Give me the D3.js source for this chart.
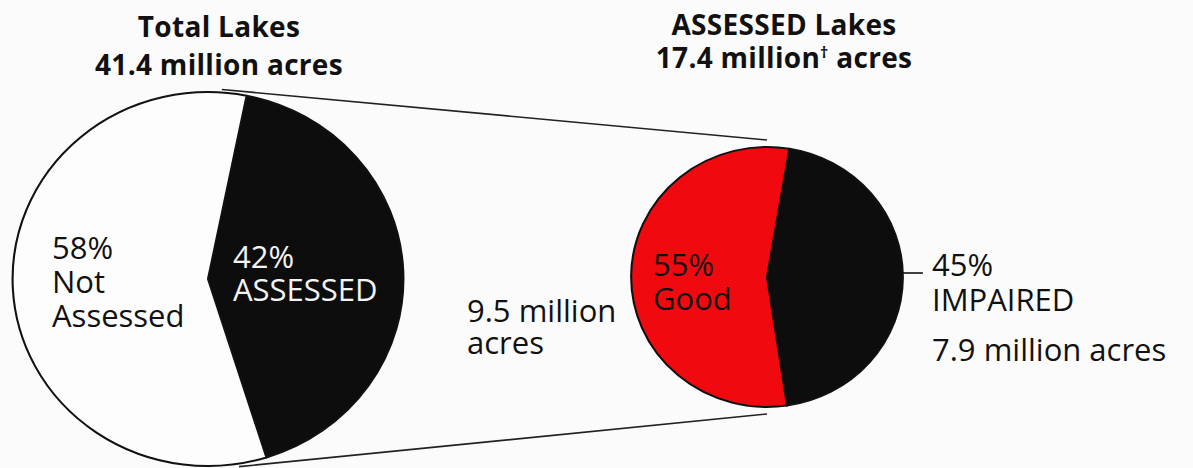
<!DOCTYPE html>
<html>
<head>
<meta charset="utf-8">
<script src="https://cdn.jsdelivr.net/npm/d3@7"></script>
<style>
  html, body { margin: 0; padding: 0; background: #fbfbfb; }
  svg { display: block; }
  text { font-family: "Open Sans", "Noto Sans", sans-serif; fill: #111; }
  .title { font-weight: 700; font-size: 28px; letter-spacing: 0.3px; }
  .lbl { font-size: 31px; }
</style>
</head>
<body>
<script>
// data
var totalCategories = ['ASSESSED', 'Not Assessed'],
	totalShares = [42, 58],
	totalAcres = 41.4;

var assessedCategories = ['IMPAIRED', 'Good'],
	assessedShares = [45, 55],
	assessedAcres = 17.4,
	goodAcres = 9.5,
	impairedAcres = 7.9;

var W = 1193, H = 468,
	stretch = 1.045; // the scan is a little wider than tall

var svg = d3.select('body').append('svg').attr('width', W).attr('height', H);

var deg = Math.PI / 180;

function drawPie(cx, cy, r, shares, colours, mid) {
	// dark slice centred on angle "mid" (degrees clockwise from 12 o'clock)
	var start = mid * deg - shares[0] / 100 * Math.PI;
	var pie = d3.pie().sort(null).startAngle(start).endAngle(start + 2 * Math.PI);
	var arc = d3.arc().innerRadius(0).outerRadius(r);
	var g = svg.append('g').attr('transform', 'translate(' + cx + ',' + cy + ') scale(' + stretch + ',1)');
	g.selectAll('path').data(pie(shares)).enter().append('path')
		.attr('d', arc)
		.attr('fill', function (d, i) { return colours[i]; })
		.attr('stroke', '#111')
		.attr('stroke-width', 2)
		.attr('stroke-linejoin', 'round');
	return g;
}

// point on a (stretched) circle, angle measured clockwise from 12 o'clock
function onPie(cx, cy, r, a) {
	return [cx + stretch * r * Math.sin(a * deg), cy - r * Math.cos(a * deg)];
}

var left = {x: 208, y: 279, r: 187},
	right = {x: 767, y: 277, r: 130};

// connector lines between the two pies
var conn = [[4, 3, 0, 7], [171, 3, 180, 7]];
conn.forEach(function (c) {
	var p0 = onPie(left.x, left.y, left.r + c[1], c[0]),
		p1 = onPie(right.x, right.y, right.r + c[3], c[2]);
	svg.append('line')
		.attr('x1', p0[0]).attr('y1', p0[1])
		.attr('x2', p1[0]).attr('y2', p1[1])
		.attr('stroke', '#222').attr('stroke-width', 1.6);
});

drawPie(left.x, left.y, left.r, totalShares, ['#0d0d0d', '#fdfdfd'], 87);
drawPie(right.x, right.y, right.r, assessedShares, ['#0d0d0d', '#f00a10'], 90.5);

// impaired tick
var tk = onPie(right.x, right.y, right.r, 90);
svg.append('line').attr('x1', tk[0]).attr('y1', tk[1] - 4).attr('x2', tk[0] + 20).attr('y2', tk[1] - 4)
	.attr('stroke', '#111').attr('stroke-width', 1.6);

// titles
svg.append('text').attr('class', 'title').attr('x', 219).attr('y', 37).attr('text-anchor', 'middle').text('Total Lakes');
svg.append('text').attr('class', 'title').attr('x', 219).attr('y', 75).attr('text-anchor', 'middle').text(totalAcres + ' million acres');
svg.append('text').attr('class', 'title').attr('x', 784).attr('y', 35).attr('text-anchor', 'middle').text('ASSESSED Lakes');
var t2 = svg.append('text').attr('class', 'title').attr('x', 784).attr('y', 68).attr('text-anchor', 'middle');
t2.append('tspan').text(assessedAcres + ' million');
t2.append('tspan').attr('font-size', 16).attr('dy', -10).text('\u2020');
t2.append('tspan').attr('dy', 10).text(' acres');

function block(x, y, lines, colour, lh) {
	var t = svg.append('text').attr('class', 'lbl').attr('x', x).attr('y', y).style('fill', colour);
	lines.forEach(function (s, i) {
		t.append('tspan').attr('x', x).attr('dy', i ? lh : 0).text(s);
	});
}

block(52, 259, [totalShares[1] + '%', 'Not', 'Assessed'], '#111', 34);
block(233, 268, [totalShares[0] + '%', totalCategories[0]], '#f4f4f4', 33);
block(653, 276, [assessedShares[1] + '%', assessedCategories[1]], '#111', 34);
block(932, 276, [assessedShares[0] + '%', assessedCategories[0]], '#111', 35);
block(932, 361, [impairedAcres + ' million acres'], '#111', 0);
block(467, 322, [goodAcres + ' million', 'acres'], '#111', 32);
</script>
</body>
</html>
